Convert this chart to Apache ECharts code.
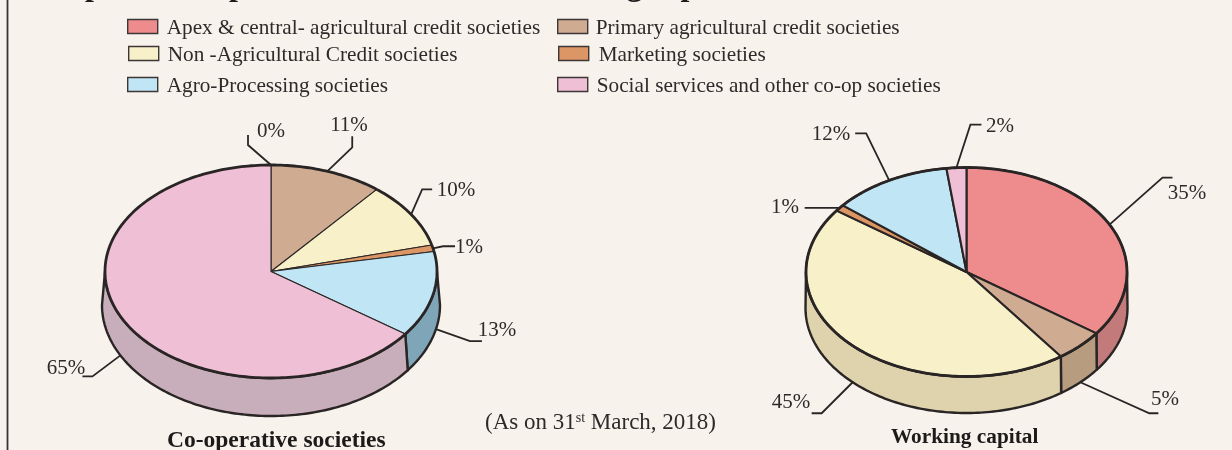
<!DOCTYPE html>
<html>
<head>
<meta charset="utf-8">
<style>html,body{margin:0;padding:0;background:#f7f2ec}#c{width:1232px;height:450px}</style>
<script src="https://cdn.jsdelivr.net/npm/echarts@6/dist/echarts.min.js"></script>
</head>
<body>
<div id="c"></div>
<script>
// ---------- data ----------
const categories = [
  'Apex & central- agricultural credit societies',
  'Primary agricultural credit societies',
  'Non -Agricultural Credit societies',
  'Marketing societies',
  'Agro-Processing societies',
  'Social services and other co-op societies'
];
const cooperativeSocieties = [0, 11, 10, 1, 13, 65];
const workingCapital = [35, 5, 45, 1, 12, 2];
const pieTitles = ['Co-operative societies', 'Working capital'];
const chartTitle = 'Graph 4: Co-operative societies and working capital';

// ---------- style & layout ----------
const topColors = ['#ee8c8d', '#cfab92', '#f8f0c8', '#dc9564', '#c0e6f6', '#efbfd5'];
const sideColors = ['#c37a7a', '#b89c80', '#dfd3ae', '#a8744e', '#7fa6b8', '#c8aeba'];
const INK = '#2a2525';
const SERIF = '"Liberation Serif", serif';
const pieGeometry = [
  { cx: 271, cy: 271.5, rx: 166, ry: 106.5, lcy: 305, lrx: 169, lry: 111, radial: 1.1 },
  { cx: 966.5, cy: 272, rx: 160.5, ry: 104.5, lcy: 308, lrx: 161, lry: 105, radial: 2.1 }
];
// per pie, per category: leader route relative to anchor, label centre, anchor on lower rim
const leaders = [
  [
    { e: [-23, -20], t: [-23, -30], low: false, lx: 271, ly: 131 },
    { e: [25, -24], t: [25, -35], low: false, lx: 349, ly: 125 },
    { e: [11, -25], t: [21, -25], low: false, lx: 456, ly: 190 },
    { e: [10, -2], t: [22, -2], low: false, lx: 469, ly: 247 },
    { e: [34, 12], t: [46, 12], low: true, lx: 497, ly: 330 },
    { e: [-28, 21], t: [-38, 21], low: true, lx: 66, ly: 368 }
  ],
  [
    { e: [53, -47], t: [63, -47], low: false, lx: 1187, ly: 193 },
    { e: [69, 31], t: [78, 31], low: true, lx: 1165, ly: 399 },
    { e: [-31, 31], t: [-41, 31], low: true, lx: 791, ly: 402 },
    { e: [-35, 0], t: [-35, 0], low: false, lx: 785, ly: 207 },
    { e: [-23, -47], t: [-34, -47], low: false, lx: 831, ly: 134 },
    { e: [14, -43], t: [25, -43], low: false, lx: 1000, ly: 126 }
  ]
];
const legendSlots = [
  [127, 17.5], [557, 17.5], [128, 44.5], [558, 44.5], [127, 75.5], [557, 75.5]
];
const legendPad = [4, 3, 4, 5, 4, 4];

// ---------- drawing ----------
const pieSeries = [cooperativeSocieties, workingCapital];
const TAU = Math.PI * 2;
function cumulative(values, idx) {
  let s = 0;
  for (let i = 0; i < idx; i++) s += values[i];
  return s;
}
function onRim(g, a, lower) {
  return lower
    ? [g.cx + g.lrx * Math.sin(a), g.lcy - g.lry * Math.cos(a)]
    : [g.cx + g.rx * Math.sin(a), g.cy - g.ry * Math.cos(a)];
}
function arc(g, a0, a1, lower) {
  const n = Math.max(2, Math.ceil(Math.abs(a1 - a0) / 0.02));
  const pts = [];
  for (let i = 0; i <= n; i++) pts.push(onRim(g, a0 + (a1 - a0) * i / n, lower));
  return pts;
}
function makeRender(catIdx) {
  return function (params, api) {
    const pie = api.value(0), startPct = api.value(1), val = api.value(2);
    const g = pieGeometry[pie];
    const a0 = startPct / 100 * TAU, a1 = (startPct + val) / 100 * TAU;
    const children = [];
    if (val > 0) {
      const s0 = Math.max(a0, Math.PI / 2), s1 = Math.min(a1, Math.PI * 1.5);
      if (s1 > s0) {
        const wall = arc(g, s0, s1, false).concat(arc(g, s1, s0, true));
        children.push({ type: 'polygon', z2: 1, shape: { points: wall },
          style: { fill: sideColors[catIdx], stroke: INK, lineWidth: 2.4, lineJoin: 'round' } });
      }
      const sector = [[g.cx, g.cy]].concat(arc(g, a0, a1, false));
      children.push({ type: 'polygon', z2: 2, shape: { points: sector },
        style: { fill: topColors[catIdx], stroke: INK, lineWidth: g.radial, lineJoin: 'round' } });
      children.push({ type: 'polyline', z2: 3, shape: { points: arc(g, a0, a1, false) },
        style: { fill: null, stroke: INK, lineWidth: 2.8 } });
    }
    const L = leaders[pie][catIdx];
    const anchor = onRim(g, (a0 + a1) / 2, L.low);
    const pts = [anchor, [anchor[0] + L.e[0], anchor[1] + L.e[1]], [anchor[0] + L.t[0], anchor[1] + L.t[1]]];
    children.push({ type: 'polyline', z2: 4, shape: { points: pts },
      style: { fill: null, stroke: INK, lineWidth: 1.8 } });
    children.push({ type: 'text', z2: 5, x: L.lx, y: L.ly,
      style: { text: val + '%', fill: '#2e2a2a', font: '21px ' + SERIF, align: 'center', verticalAlign: 'middle' } });
    return { type: 'group', children };
  };
}
const series = categories.map((name, c) => ({
  type: 'custom',
  name,
  coordinateSystem: 'none',
  silent: true,
  animation: false,
  itemStyle: { color: topColors[c] },
  renderItem: makeRender(c),
  data: pieSeries.map((vals, p) => [p, cumulative(vals, c), vals[c]])
}));
const legends = categories.map((name, c) => ({
  data: [name],
  left: legendSlots[c][0],
  top: legendSlots[c][1],
  padding: 0,
  icon: 'rect',
  itemWidth: 30,
  itemHeight: 14,
  selectedMode: false,
  itemStyle: { color: topColors[c], borderColor: '#3c3636', borderWidth: 1.4 },
  formatter: '{t|{name}}',
  textStyle: { fontFamily: SERIF, fontSize: 21.25, color: '#2e2a2a',
    rich: { t: { fontFamily: SERIF, fontSize: 21.25, color: '#2e2a2a', lineHeight: 24, height: 21, verticalAlign: 'bottom', padding: [0, 0, 0, legendPad[c]] } } }
}));
const chart = echarts.init(document.getElementById('c'), null, { renderer: 'canvas' });
chart.setOption({
  backgroundColor: '#f7f2ec',
  animation: false,
  title: [
    { text: chartTitle, left: 30, top: -29, padding: 0, textStyle: { fontFamily: SERIF, fontSize: 32, fontWeight: 'bold', color: '#1d1a1a' } },
    { text: pieTitles[0], left: 167, top: 429, padding: 0, textStyle: { fontFamily: SERIF, fontSize: 23.5, fontWeight: 'bold', color: '#1d1a1a' } },
    { text: pieTitles[1], left: 891, top: 427, padding: 0, textStyle: { fontFamily: SERIF, fontSize: 21.3, fontWeight: 'bold', color: '#1d1a1a' } },
    { text: '{a|(As on 31}{s|st}{a| March, 2018)}', left: 485, top: 411, padding: 0,
      textStyle: { fontWeight: 'normal', rich: {
        a: { fontFamily: SERIF, fontSize: 23, fontWeight: 'normal', color: '#2e2a2a' },
        s: { fontFamily: SERIF, fontSize: 14, fontWeight: 'normal', color: '#2e2a2a', verticalAlign: 'top', padding: [0, 0, 8, 0] }
      } } }
  ],
  legend: legends,
  graphic: [{ type: 'line', silent: true, shape: { x1: 7.5, y1: 0, x2: 7.5, y2: 450 }, style: { stroke: '#3a3535', lineWidth: 1.8 } }],
  series
});
</script>
</body>
</html>
